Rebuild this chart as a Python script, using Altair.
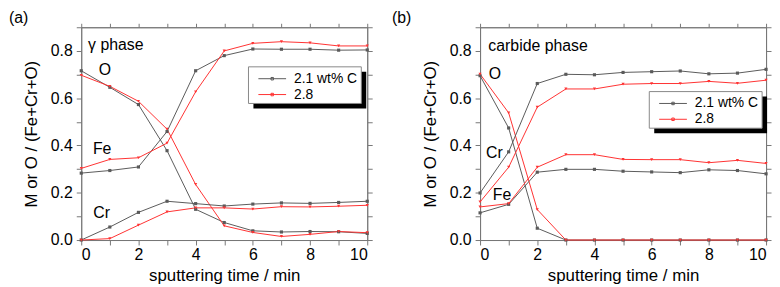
import altair as alt
import pandas as pd

t = list(range(11))
series_names = ["2.1 wt% C", "2.8"]
x_ticks = list(range(11))
y_ticks = [0.0, 0.1, 0.2, 0.3, 0.4, 0.5, 0.6, 0.7, 0.8, 0.9]

# panel (a): gamma phase
a_O_21 = [0.716, 0.646, 0.573, 0.378, 0.130, 0.074, 0.039, 0.034, 0.036, 0.035, 0.028]
a_O_28 = [0.697, 0.650, 0.587, 0.469, 0.235, 0.060, 0.032, 0.015, 0.024, 0.036, 0.031]
a_Fe_21 = [0.283, 0.294, 0.309, 0.459, 0.716, 0.780, 0.808, 0.807, 0.807, 0.803, 0.804]
a_Fe_28 = [0.303, 0.341, 0.348, 0.410, 0.627, 0.800, 0.832, 0.839, 0.834, 0.821, 0.821]
a_Cr_21 = [0.000, 0.055, 0.117, 0.164, 0.154, 0.144, 0.152, 0.157, 0.155, 0.159, 0.164]
a_Cr_28 = [0.000, 0.006, 0.063, 0.119, 0.136, 0.136, 0.131, 0.141, 0.140, 0.143, 0.147]

# panel (b): carbide phase
b_O_21 = [0.695, 0.474, 0.050, 0.0, 0.0, 0.0, 0.0, 0.0, 0.0, 0.0, 0.0]
b_O_28 = [0.702, 0.538, 0.129, 0.0, 0.0, 0.0, 0.0, 0.0, 0.0, 0.0, 0.0]
b_Cr_21 = [0.199, 0.373, 0.662, 0.701, 0.699, 0.709, 0.712, 0.715, 0.703, 0.706, 0.722]
b_Cr_28 = [0.161, 0.308, 0.562, 0.639, 0.639, 0.659, 0.662, 0.662, 0.671, 0.663, 0.676]
b_Fe_21 = [0.115, 0.151, 0.287, 0.299, 0.299, 0.291, 0.288, 0.285, 0.297, 0.294, 0.280]
b_Fe_28 = [0.140, 0.154, 0.308, 0.361, 0.361, 0.341, 0.340, 0.340, 0.327, 0.337, 0.324]

# annotations
a_ann_labels = ["O", "Fe", "Cr"]
a_ann_x = [0.83, 0.73, 0.71]
a_ann_y = [0.72, 0.385, 0.113]
b_ann_labels = ["O", "Cr", "Fe"]
b_ann_x = [0.52, 0.50, 0.77]
b_ann_y = [0.70, 0.369, 0.19]
phase_labels = ["γ phase", "carbide phase"]
phase_x = [0.24, 0.29]
phase_y = [0.805, 0.80]
panel_tags = ["(a)", "(b)"]

rows = []
def add(panel, elem, ser, vals):
    for ti, v in zip(t, vals):
        rows.append(dict(panel=panel, element=elem, series=ser, t=ti, value=v))

add("a", "O", series_names[0], a_O_21)
add("a", "O", series_names[1], a_O_28)
add("a", "Fe", series_names[0], a_Fe_21)
add("a", "Fe", series_names[1], a_Fe_28)
add("a", "Cr", series_names[0], a_Cr_21)
add("a", "Cr", series_names[1], a_Cr_28)
add("b", "O", series_names[0], b_O_21)
add("b", "O", series_names[1], b_O_28)
add("b", "Cr", series_names[0], b_Cr_21)
add("b", "Cr", series_names[1], b_Cr_28)
add("b", "Fe", series_names[0], b_Fe_21)
add("b", "Fe", series_names[1], b_Fe_28)
df = pd.DataFrame(rows)

FONT = "Liberation Sans"
GRAY = "#5a5a5a"
RED = "#ff3232"
FRAME = "#777777"
W, H = 289, 215
BOX_W, BOX_H = 114, 37
SH = 5

xs = alt.Scale(domain=[0, 10], nice=False, zero=False)
ys = alt.Scale(domain=[0, 0.9], nice=False, zero=False)
# legend symbol: a 28px line with a small marker in its middle
LEG_SYMBOL = "M-1,0L4.6,0M1.55,-0.25L2.05,-0.25L2.05,0.25L1.55,0.25Z"


def make_panel(i, pid, ann_labels, ann_x, ann_y, boxx, boxy):
    d = df[df.panel == pid]
    base = alt.Chart(d)
    color = alt.Color(
        "series:N",
        scale=alt.Scale(domain=series_names, range=[GRAY, RED]),
        title=None,
        legend=alt.Legend(
            orient="none", legendX=boxx + 3, legendY=boxy, padding=5,
            labelFont=FONT, labelFontSize=14, labelColor="black",
            symbolType=LEG_SYMBOL, symbolSize=100, symbolStrokeWidth=1,
            labelOffset=24, rowPadding=2,
        ),
    )
    lines = base.mark_line(strokeWidth=1).encode(
        x=alt.X("t:Q", scale=xs, axis=alt.Axis(
            orient="bottom", values=x_ticks, tickSize=5, labelPadding=2,
            labelExpr="datum.value % 2 == 0 ? datum.label : ''",
            title="sputtering time / min", titlePadding=5)),
        y=alt.Y("value:Q", scale=ys, axis=alt.Axis(
            orient="left", values=y_ticks, tickSize=5, labelPadding=4,
            labelExpr="round(datum.value*10) % 2 == 0 ? format(datum.value, '.1f') : ''",
            title="M or O / (Fe+Cr+O)", titlePadding=10)),
        color=color,
        detail="element:N",
    )
    pts = base.mark_point(filled=True, opacity=1, size=10).encode(
        x=alt.X("t:Q", scale=xs, axis=alt.Axis(
            orient="top", values=x_ticks, tickSize=4, labels=False, title=None)),
        y=alt.Y("value:Q", scale=ys, axis=alt.Axis(
            orient="right", values=y_ticks, tickSize=5, labels=False, title=None)),
        fill=alt.Fill("series:N", scale=alt.Scale(domain=series_names, range=[GRAY, RED]), legend=None),
        shape=alt.Shape("series:N", scale=alt.Scale(domain=series_names, range=["square", "triangle-down"]), legend=None),
        detail="element:N",
    )
    ann_df = pd.DataFrame({"label": ann_labels, "x": ann_x, "y": ann_y})
    ann = alt.Chart(ann_df).mark_text(font=FONT, fontSize=16, color="black", align="center", baseline="middle").encode(
        x=alt.X("x:Q", scale=xs, axis=None), y=alt.Y("y:Q", scale=ys, axis=None), text="label:N")
    ph_df = pd.DataFrame({"label": [phase_labels[i]], "x": [phase_x[i]], "y": [phase_y[i]]})
    ph = alt.Chart(ph_df).mark_text(font=FONT, fontSize=16, color="black", align="left", baseline="alphabetic").encode(
        x=alt.X("x:Q", scale=xs, axis=None), y=alt.Y("y:Q", scale=ys, axis=None), text="label:N")
    tag_df = pd.DataFrame({"tag": [panel_tags[i]]})
    tag = alt.Chart(tag_df).mark_text(font=FONT, fontSize=16, color="black", align="left", baseline="top").encode(
        x=alt.value(-73 if i == 0 else -89), y=alt.value(-17), text="tag:N")
    # legend frame with drop shadow
    sh = alt.Chart(tag_df).mark_rect(fill="#000000", opacity=1, strokeWidth=0).encode(
        x=alt.value(boxx + SH), x2=alt.value(boxx + BOX_W + SH),
        y=alt.value(boxy + SH), y2=alt.value(boxy + BOX_H + SH))
    box = alt.Chart(tag_df).mark_rect(fill="#ffffff", opacity=1, stroke="#888888", strokeWidth=1).encode(
        x=alt.value(boxx), x2=alt.value(boxx + BOX_W),
        y=alt.value(boxy), y2=alt.value(boxy + BOX_H))
    return alt.layer(lines, pts, ann, ph, tag, sh, box).resolve_axis(x="independent", y="independent").properties(width=W, height=H)


left = make_panel(0, "a", a_ann_labels, a_ann_x, a_ann_y, 169, 40)
right = make_panel(1, "b", b_ann_labels, b_ann_x, b_ann_y, 171, 65)

chart = alt.hconcat(left, right, spacing=18).resolve_legend(color="independent").properties(
    padding={"left": 0, "top": 0, "right": 0, "bottom": 0}
).configure_axis(
    labelFont=FONT, titleFont=FONT, labelFontSize=16, titleFontSize=17,
    labelColor="black", titleColor="black", titleFontWeight="normal",
    tickColor=FRAME, domainColor=FRAME, grid=False,
).configure_view(stroke=FRAME, strokeWidth=1)

chart.save("out.html", embed_options={"renderer": "svg", "actions": False})
